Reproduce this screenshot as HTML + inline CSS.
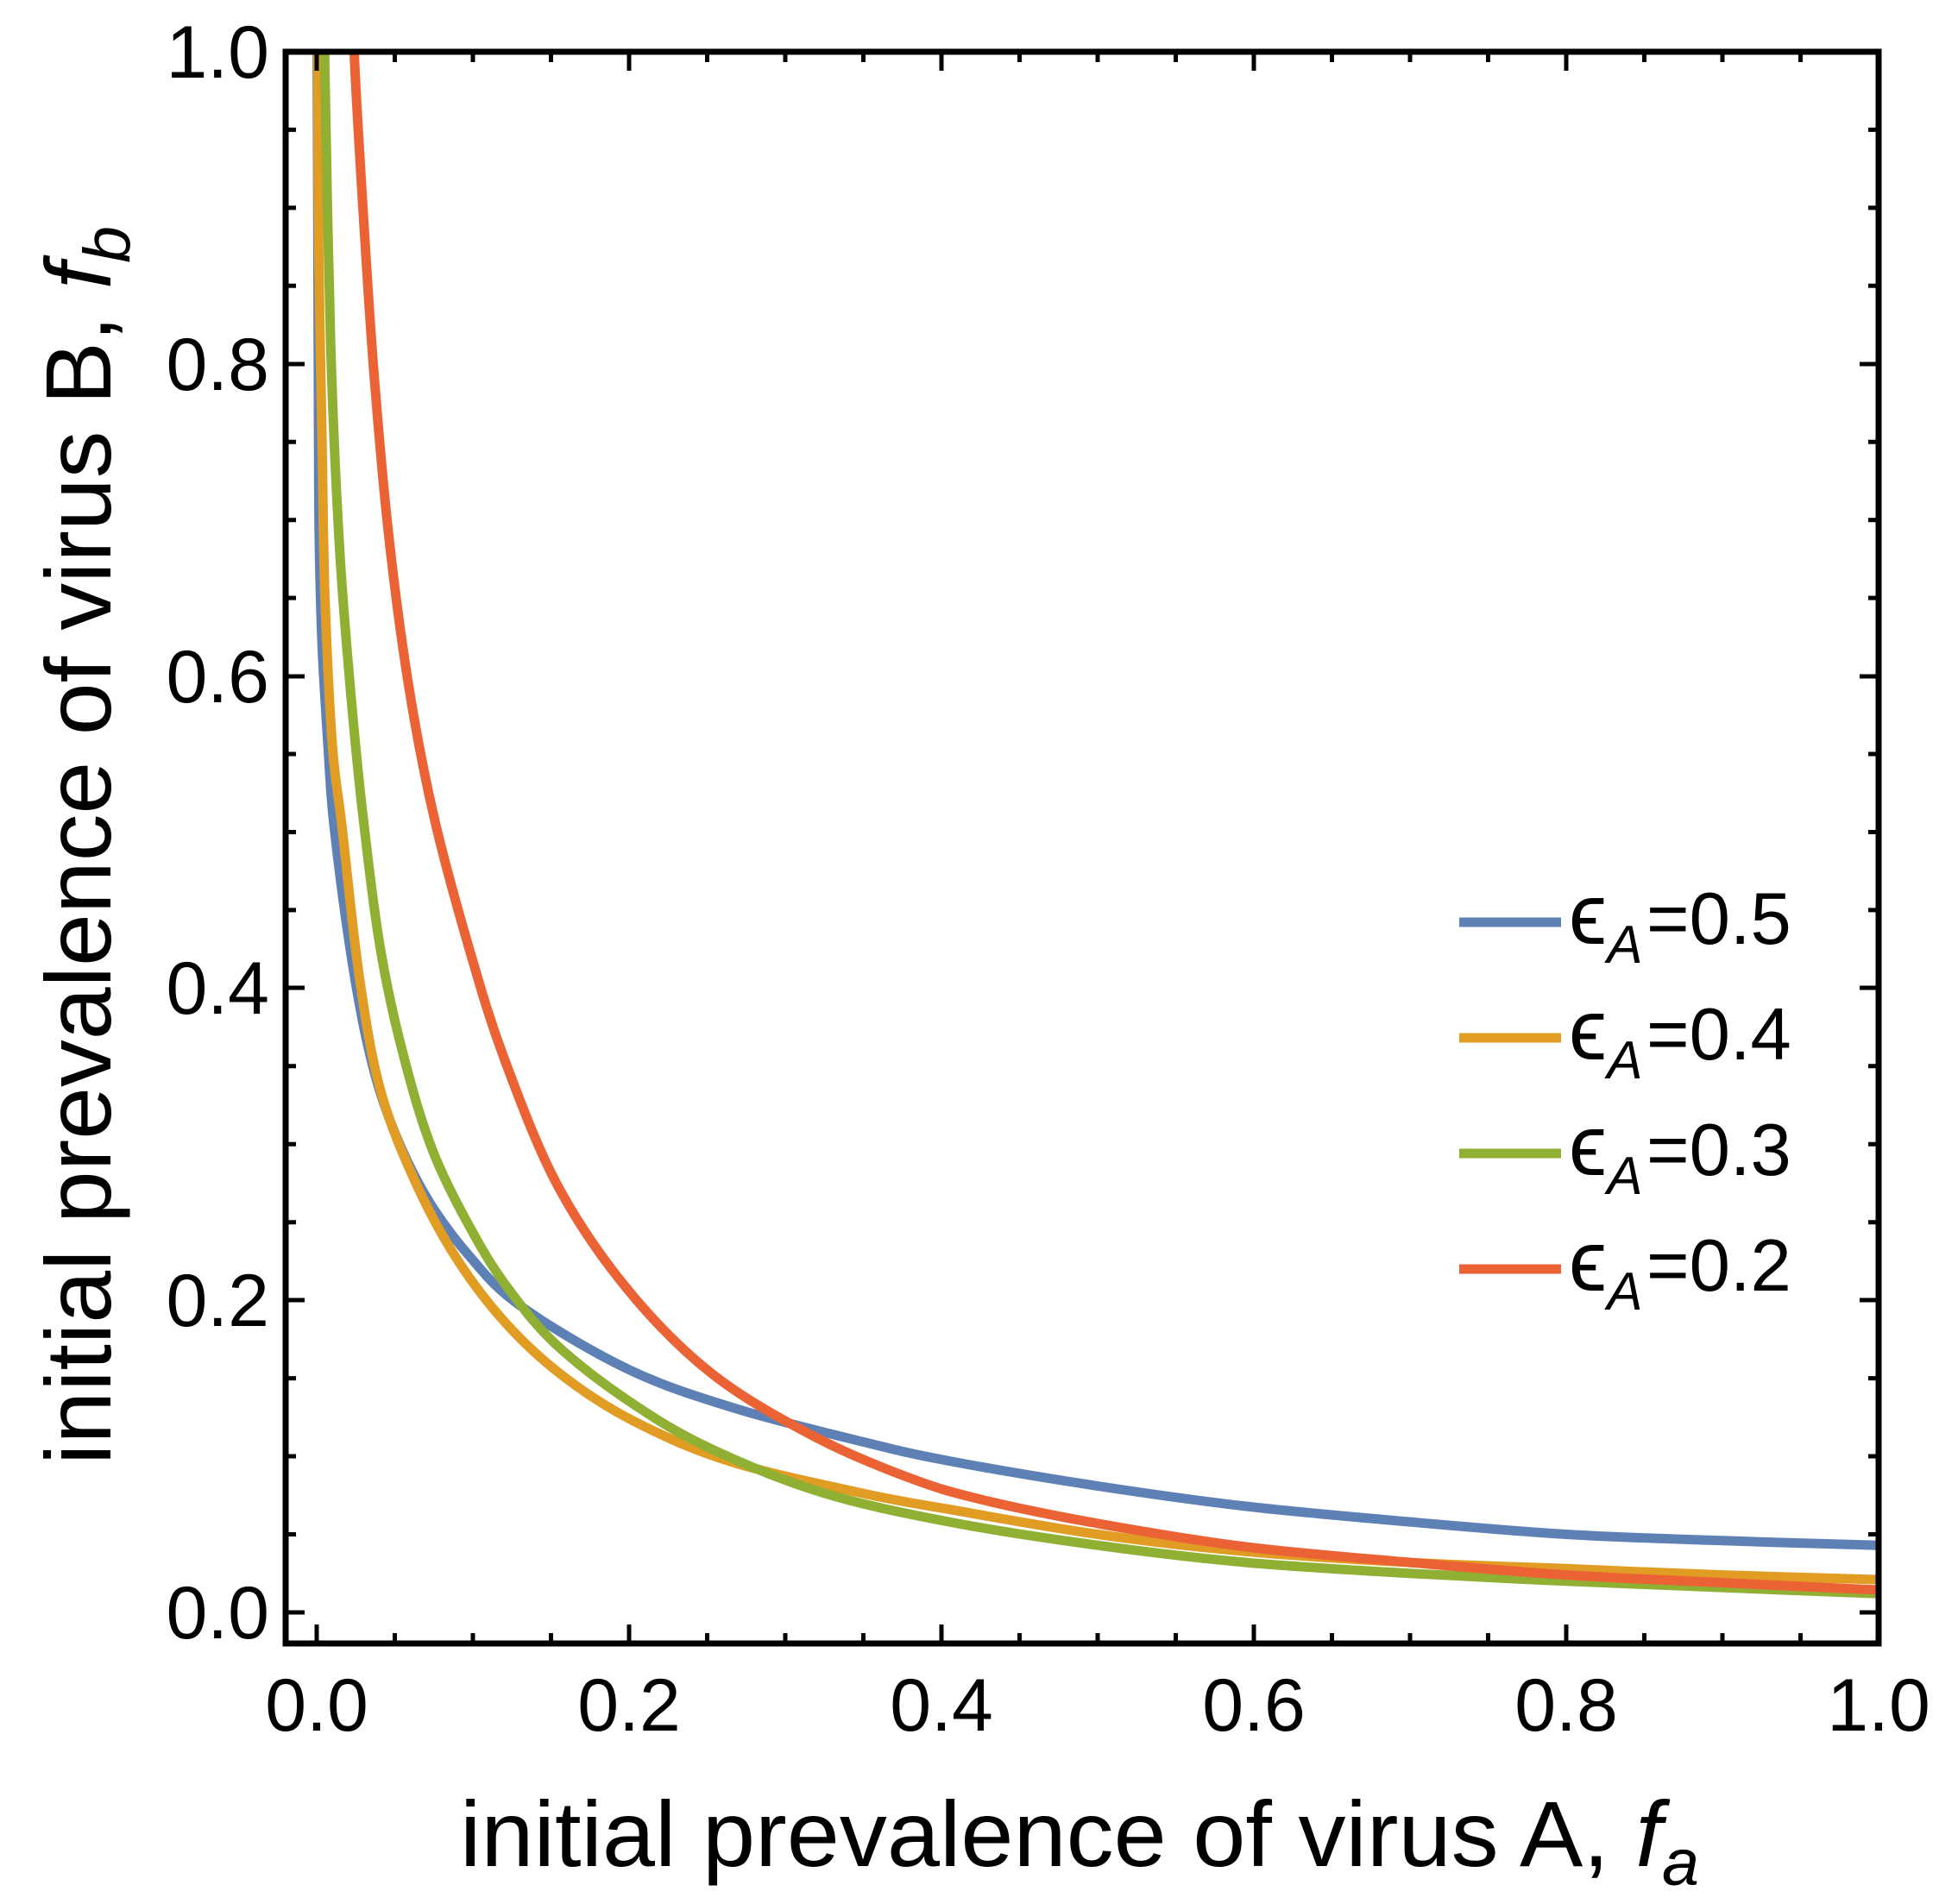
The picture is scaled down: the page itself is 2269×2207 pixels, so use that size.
<!DOCTYPE html>
<html><head><meta charset="utf-8"><style>
html,body{margin:0;padding:0;background:#fff}
svg{display:block}
text{font-family:"Liberation Sans",sans-serif;fill:#000}
</style></head><body>
<svg id="s" width="2269" height="2207" viewBox="0 0 2269 2207" xmlns="http://www.w3.org/2000/svg">
<defs><clipPath id="c"><rect x="331" y="60" width="1846" height="1845"/></clipPath></defs>
<g id="curves" clip-path="url(#c)" fill="none" stroke-linejoin="round" stroke-linecap="round" stroke-width="11">
<path stroke="#5E81B5" data-p="0,1.05 0.0003,1 0.0008,0.873 0.0012,0.746 0.0017,0.683 0.0035,0.619 0.0072,0.556 0.011,0.505 0.0216,0.424 0.033,0.362 0.047,0.315 0.0697,0.267 0.098,0.228 0.131,0.196 0.199,0.156 0.267,0.131 0.351,0.109 0.405,0.097 0.5,0.081 0.595,0.068 0.7,0.058 0.8,0.050 0.9,0.046 1.0,0.043 1.05,0.042"/>
<path stroke="#E19C24" data-p="0.0003,1.05 0.0006,1 0.0013,0.873 0.0035,0.746 0.0053,0.65 0.010,0.556 0.016,0.505 0.0273,0.407 0.041,0.334 0.064,0.274 0.092,0.223 0.126,0.180 0.165,0.146 0.210,0.119 0.267,0.096 0.351,0.076 0.405,0.066 0.5,0.050 0.595,0.039 0.7,0.032 0.8,0.028 0.9,0.024 1.0,0.021 1.05,0.020"/>
<path stroke="#8FB032" data-p="0.0045,1.05 0.005,1.0 0.009,0.81 0.0146,0.683 0.0219,0.588 0.030,0.507 0.041,0.424 0.0555,0.357 0.075,0.294 0.103,0.238 0.126,0.203 0.154,0.171 0.199,0.136 0.250,0.106 0.323,0.077 0.405,0.058 0.5,0.043 0.595,0.032 0.7,0.025 0.8,0.020 0.9,0.016 1.0,0.012 1.05,0.011"/>
<path stroke="#EB6235" data-p="0.0235,1.05 0.024,1.0 0.0293,0.905 0.0366,0.795 0.0459,0.692 0.0587,0.595 0.075,0.510 0.098,0.424 0.120,0.355 0.154,0.274 0.199,0.207 0.253,0.153 0.318,0.113 0.380,0.086 0.427,0.072 0.5,0.057 0.595,0.042 0.7,0.032 0.8,0.024 0.9,0.019 1.0,0.0144 1.05,0.013"/>
</g>
<g stroke="#000" stroke-width="5" fill="none">
<path d="M367 1905V1883M729 1905V1883M1091 1905V1883M1453 1905V1883M1815 1905V1883
M457.5 1905V1893M548 1905V1893M638.5 1905V1893M819.5 1905V1893M910 1905V1893M1000.5 1905V1893M1181.5 1905V1893M1272 1905V1893M1362.5 1905V1893M1543.5 1905V1893M1634 1905V1893M1724.5 1905V1893M1905.5 1905V1893M1996 1905V1893M2086.5 1905V1893"/>
<path d="M367 60V82M729 60V82M1091 60V82M1453 60V82M1815 60V82
M457.5 60V72M548 60V72M638.5 60V72M819.5 60V72M910 60V72M1000.5 60V72M1181.5 60V72M1272 60V72M1362.5 60V72M1543.5 60V72M1634 60V72M1724.5 60V72M1905.5 60V72M1996 60V72M2086.5 60V72"/>
<path d="M331 1869H353M331 1507H353M331 1145H353M331 784H353M331 422H353
M331 1778.5H343M331 1688H343M331 1597.6H343M331 1416.7H343M331 1326.3H343M331 1235.8H343M331 1054.9H343M331 964.5H343M331 874H343M331 693.1H343M331 602.7H343M331 512.2H343M331 331.3H343M331 240.9H343M331 150.4H343"/>
<path d="M2177 1869H2155M2177 1507H2155M2177 1145H2155M2177 784H2155M2177 422H2155
M2177 1778.5H2165M2177 1688H2165M2177 1597.6H2165M2177 1416.7H2165M2177 1326.3H2165M2177 1235.8H2165M2177 1054.9H2165M2177 964.5H2165M2177 874H2165M2177 693.1H2165M2177 602.7H2165M2177 512.2H2165M2177 331.3H2165M2177 240.9H2165M2177 150.4H2165"/>
</g>
<rect x="331" y="60" width="1846" height="1845" fill="none" stroke="#000" stroke-width="7"/>
<g font-size="86" text-anchor="end">
<text x="312" y="1899">0.0</text>
<text x="312" y="1537">0.2</text>
<text x="312" y="1175">0.4</text>
<text x="312" y="814">0.6</text>
<text x="312" y="452">0.8</text>
<text x="312" y="90">1.0</text>
</g>
<g font-size="86" text-anchor="middle">
<text x="367" y="2006">0.0</text>
<text x="729" y="2006">0.2</text>
<text x="1091" y="2006">0.4</text>
<text x="1453" y="2006">0.6</text>
<text x="1815" y="2006">0.8</text>
<text x="2177" y="2006">1.0</text>
</g>
<text x="533" y="2163" font-size="108" textLength="1436" lengthAdjust="spacingAndGlyphs">initial prevalence of virus A, <tspan font-style="italic">f</tspan><tspan font-style="italic" font-size="76" dy="22">a</tspan></text>
<text transform="translate(128,1698) rotate(-90)" x="0" y="0" font-size="108" textLength="1436" lengthAdjust="spacingAndGlyphs">initial prevalence of virus B, <tspan font-style="italic">f</tspan><tspan font-style="italic" font-size="76" dy="22">b</tspan></text>
<g stroke-width="11">
<line x1="1691" y1="1069" x2="1809" y2="1069" stroke="#5E81B5"/>
<line x1="1691" y1="1203" x2="1809" y2="1203" stroke="#E19C24"/>
<line x1="1691" y1="1337" x2="1809" y2="1337" stroke="#8FB032"/>
<line x1="1691" y1="1471" x2="1809" y2="1471" stroke="#EB6235"/>
</g>
<g font-size="85">
<text x="1818" y="1094"><tspan font-size="100">ϵ</tspan><tspan font-style="italic" font-size="62" dy="22">A</tspan><tspan dy="-22" x="1908">=0.5</tspan></text>
<text x="1818" y="1228"><tspan font-size="100">ϵ</tspan><tspan font-style="italic" font-size="62" dy="22">A</tspan><tspan dy="-22" x="1908">=0.4</tspan></text>
<text x="1818" y="1362"><tspan font-size="100">ϵ</tspan><tspan font-style="italic" font-size="62" dy="22">A</tspan><tspan dy="-22" x="1908">=0.3</tspan></text>
<text x="1818" y="1496"><tspan font-size="100">ϵ</tspan><tspan font-style="italic" font-size="62" dy="22">A</tspan><tspan dy="-22" x="1908">=0.2</tspan></text>
</g>
</svg>
<script>
(function(){
var ps=document.querySelectorAll('#curves path');
for(var k=0;k<ps.length;k++){
 var p=ps[k];
 var pts=p.getAttribute('data-p').trim().split(/\s+/).map(function(s){var a=s.split(',');return [367+1810*parseFloat(a[0]),1869-1809*parseFloat(a[1])];});
 var d='M'+pts[0][0].toFixed(1)+' '+pts[0][1].toFixed(1);
 for(var i=0;i<pts.length-1;i++){
  var p0=pts[i-1]||pts[i],p1=pts[i],p2=pts[i+1],p3=pts[i+2]||pts[i+1];
  var c1=[p1[0]+(p2[0]-p0[0])/6,p1[1]+(p2[1]-p0[1])/6];
  var c2=[p2[0]-(p3[0]-p1[0])/6,p2[1]-(p3[1]-p1[1])/6];
  d+='C'+c1[0].toFixed(1)+' '+c1[1].toFixed(1)+' '+c2[0].toFixed(1)+' '+c2[1].toFixed(1)+' '+p2[0].toFixed(1)+' '+p2[1].toFixed(1);
 }
 p.setAttribute('d',d);
}
})();
</script>
</body></html>
